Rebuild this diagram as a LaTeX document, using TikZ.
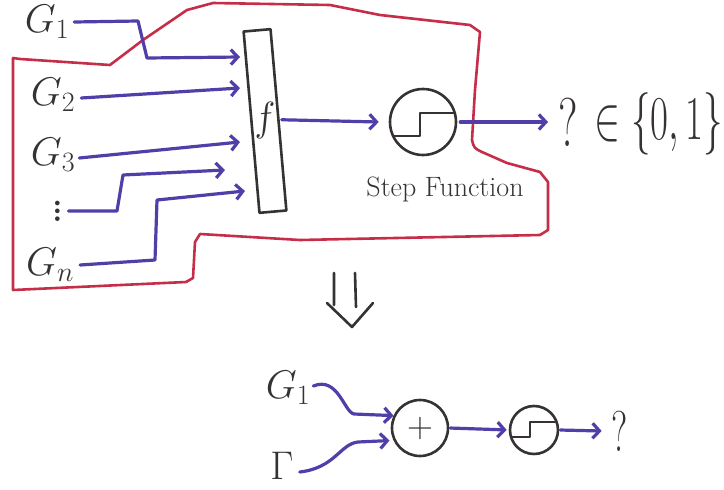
\RequirePackage{fix-cm}
\documentclass[tikz,border=0pt]{standalone}
\usetikzlibrary{arrows.meta}
\definecolor{inkblue}{RGB}{82,62,168}
\definecolor{inkred}{RGB}{198,45,72}
\definecolor{ink}{RGB}{55,50,50}
\begin{document}
\begin{tikzpicture}[x=1pt,y=-1pt,
  wire/.style={draw=inkblue, line width=3.2pt, line cap=round, line join=round,
    -{Straight Barb[length=7pt,width=15pt]}},
  lbl/.style={text=ink, font=\fontsize{40}{40}\selectfont, inner sep=0pt},
  pen/.style={draw=ink, line width=2.6pt, line cap=round, line join=round},
  ring/.style={circle, pen, inner sep=0pt}]
\useasboundingbox (0,0) rectangle (724,490);

% red outline
\draw[inkred, line width=2.6pt, line join=round]
  (20,59) -- (110,65) -- (143,40) -- (187,10) -- (213,3) -- (330,5) -- (380,15)
  -- (470,25) -- (480,32) -- (475,90) -- (472,140) .. controls (474,148) .. (482,152)
  -- (507,163) -- (540,172) -- (548,182) -- (548,230) -- (540,235) -- (300,240)
  -- (200,234) -- (195,242) -- (193,278) -- (186,282) -- (13,290) -- (13,58) -- cycle;

% labels
\node[lbl] (g1) at (47,22) {$G_1$};
\node[lbl] (g2) at (53,95) {$G_2$};
\node[lbl] (g3) at (53,155) {$G_3$};
\node[lbl, font=\fontsize{32}{32}\bfseries] (dots) at (58,211) {\rotatebox{-90}{\ldots}};
\node[lbl] (gn) at (50,265) {$G_n$};

% f box
\node[pen, minimum width=27pt, minimum height=182pt, rotate=5, inner sep=0pt,
      text=ink, font=\fontsize{40}{40}\selectfont] (f) at (265,121) {$f$};

% arrow tips on f
\coordinate (f1) at (240,57);
\coordinate (f2) at (240,88);
\coordinate (f3) at (240,142);
\coordinate (f4) at (225,170);
\coordinate (f5) at (245,191);

\draw[wire] ([xshift=5pt]g1.east) -- (138,21) -- (147,58) -- (f1);
\draw[wire] ([shift={(6,3)}]g2.east) -- (f2);
\draw[wire] ([shift={(4,3)}]g3.east) -- (f3);
\draw[wire] ([xshift=8pt]dots.east) -- (117,211) -- (123,175) -- (f4);
\draw[wire] ([xshift=6pt]gn.east) -- (155,260) -- (157,200) -- (f5);

% step function
\node[ring, minimum size=66pt] (step) at (423,122) {};
\draw[pen] ([shift={(-30,14)}]step.center) -- ++(27,0) -- ++(0,-23) -- ++(35,0);
\node[text=ink, font=\fontsize{28}{28}\selectfont] (steplbl) at (445,189) {Step Function};

\node[text=ink, font=\fontsize{60}{60}\selectfont, inner sep=0pt] (q) at (568,122) {\scalebox{0.75}[1.15]{?}};
\node[text=ink, font=\fontsize{52}{52}\selectfont, inner sep=0pt] (set) at (659,124) {\scalebox{0.75}[1.2]{$\in\{0,1\}$}};

\draw[wire, shorten <=2pt] (f.east) -- ([xshift=-10pt]step.west);
\draw[wire, shorten <=3pt] (step.east) -- ([xshift=-10pt]q.west);

% implies arrow
\draw[pen] (334,273) -- (334,305) (355,273) -- (356,307)
  (327,303) -- (352,327) -- (373,303);

% bottom diagram
\node[lbl] (bg1) at (288,388) {$G_1$};
\node[lbl] (gam) at (282,466) {$\Gamma$};
\node[ring, minimum size=56pt, text=ink, font=\fontsize{36}{36}\selectfont] (plus) at (420,428) {$+$};
\node[ring, minimum size=48pt] (step2) at (534,430) {};
\draw[pen] ([shift={(-22,7)}]step2.center) -- ++(18,0) -- ++(0,-15) -- ++(25,0);
\node[text=ink, font=\fontsize{50}{50}\selectfont, inner sep=0pt] (q2) at (620,431) {\scalebox{0.75}[1.15]{?}};

\draw[wire] ([shift={(3,-2)}]bg1.east) .. controls (338,376) and (344,412) .. (354,414) -- (plus.155);
\draw[wire, shorten >=4pt] ([shift={(6,6)}]gam.east) .. controls (335,468) and (340,444) .. (358,442) -- (plus.205);
\draw[wire, shorten <=1pt, shorten >=2pt] (plus.east) -- (step2.west);
\draw[wire, shorten <=1pt] (step2.east) -- ([xshift=-10pt]q2.west);
\end{tikzpicture}
\end{document}
